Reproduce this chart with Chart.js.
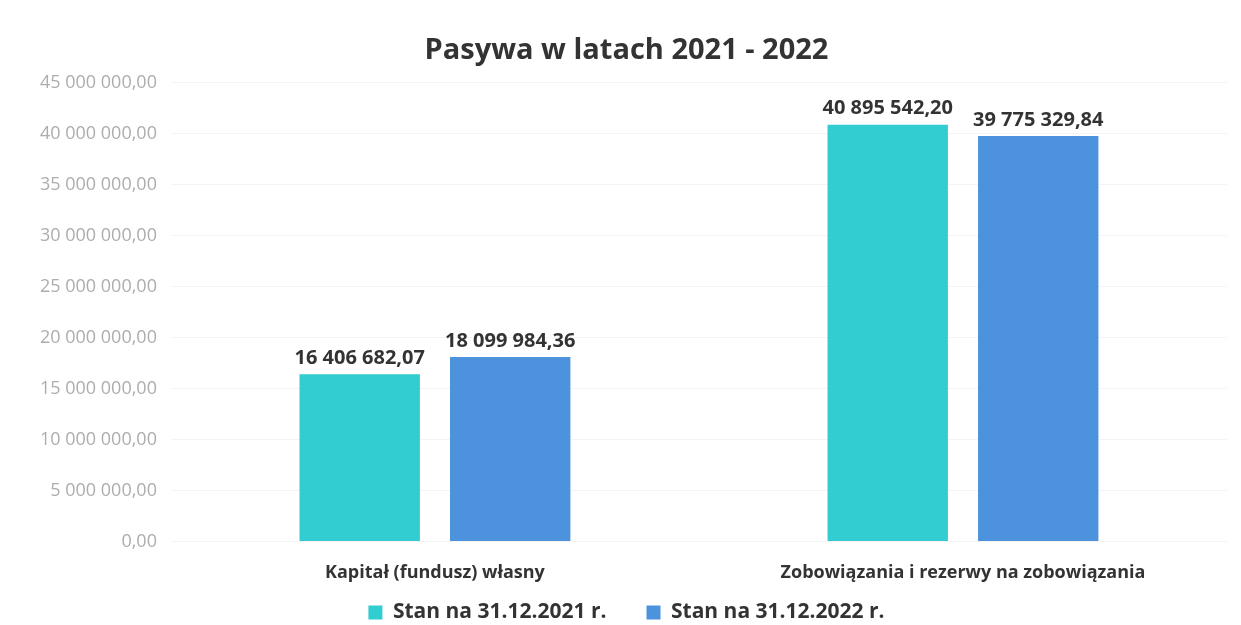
<!DOCTYPE html>
<html>
<head>
<meta charset="utf-8">
<script src="https://cdn.jsdelivr.net/npm/chart.js@4"></script>
<style>
  html, body { margin: 0; padding: 0; background: #fff; }
  #wrap { width: 1241px; height: 625px; }
</style>
</head>
<body>
<div id="wrap"><canvas id="pasywaChart" width="1241" height="625"></canvas></div>
<script>
const categories = ['Kapitał (fundusz) własny', 'Zobowiązania i rezerwy na zobowiązania'];
const seriesNames = ['Stan na 31.12.2021 r.', 'Stan na 31.12.2022 r.'];
const values2021 = [16406682.07, 40895542.20];
const values2022 = [18099984.36, 39775329.84];
const yTicks = [0, 5000000, 10000000, 15000000, 20000000, 25000000, 30000000, 35000000, 40000000, 45000000];

function formatPl(v) {
    const parts = v.toFixed(2).split('.');
    const intPart = parts[0].replace(/\B(?=(\d{3})+(?!\d))/g, ' ');
    return intPart + ',' + parts[1];
}

// simple value labels above bars
const barLabels = {
    id: 'barLabels',
    afterDatasetsDraw(chart) {
        const ctx = chart.ctx;
        ctx.save();
        ctx.font = 'bold 20px "Open Sans", sans-serif';
        ctx.fillStyle = '#333333';
        ctx.textAlign = 'center';
        ctx.textBaseline = 'bottom';
        chart.data.datasets.forEach((ds, i) => {
            chart.getDatasetMeta(i).data.forEach((bar, j) => {
                ctx.fillText(formatPl(ds.data[j]), bar.x, bar.y - 6);
            });
        });
        ctx.restore();
    }
};

// legend padding gives the wide gap between items, but we don't want it vertically
const legendTrim = 43;
const legendShift = 35;
const legendSqueeze = {
    id: 'legendSqueeze',
    afterInit(chart) {
        const lg = chart.legend;
        const fit = lg.fit;
        lg.fit = function() {
            fit.call(this);
            this.height -= legendTrim;
        };
    },
    afterLayout(chart) {
        chart.legend.top -= legendShift;
    }
};

new Chart(document.getElementById('pasywaChart'), {
    type: 'bar',
    data: {
        labels: categories,
        datasets: [{
            label: seriesNames[0],
            data: values2021,
            backgroundColor: '#31CDD1'
        }, {
            label: seriesNames[1],
            data: values2022,
            backgroundColor: '#4D92DC'
        }]
    },
    options: {
        responsive: false,
        animation: false,
        categoryPercentage: 0.57,
        barPercentage: 0.8,
        layout: { padding: { left: 26, right: 14, top: 18, bottom: 0 } },
        plugins: {
            title: {
                display: true,
                text: 'Pasywa w latach 2021 - 2022',
                color: '#333333',
                font: { family: '"Open Sans", sans-serif', size: 29, weight: 'bold' },
                padding: { top: 15, bottom: 15 }
            },
            legend: {
                position: 'bottom',
                labels: {
                    color: '#333333',
                    font: { family: '"Open Sans", sans-serif', size: 21, weight: 'bold' },
                    boxWidth: 14,
                    boxHeight: 14,
                    padding: 40
                }
            },
            tooltip: { enabled: false }
        },
        scales: {
            x: {
                grid: { display: false },
                border: { display: false },
                ticks: {
                    color: '#333333',
                    padding: 13,
                    font: { family: '"Open Sans", sans-serif', size: 18, weight: 'bold' }
                }
            },
            y: {
                min: 0,
                max: 45000000,
                afterBuildTicks(scale) {
                    scale.ticks = yTicks.map(v => ({ value: v }));
                },
                grid: { color: '#f4f4f4', drawTicks: false },
                border: { display: false },
                ticks: {
                    color: '#adadad',
                    padding: 14,
                    font: { family: '"Open Sans", sans-serif', size: 18 },
                    callback: v => formatPl(v)
                }
            }
        }
    },
    plugins: [barLabels, legendSqueeze]
});
</script>
</body>
</html>
